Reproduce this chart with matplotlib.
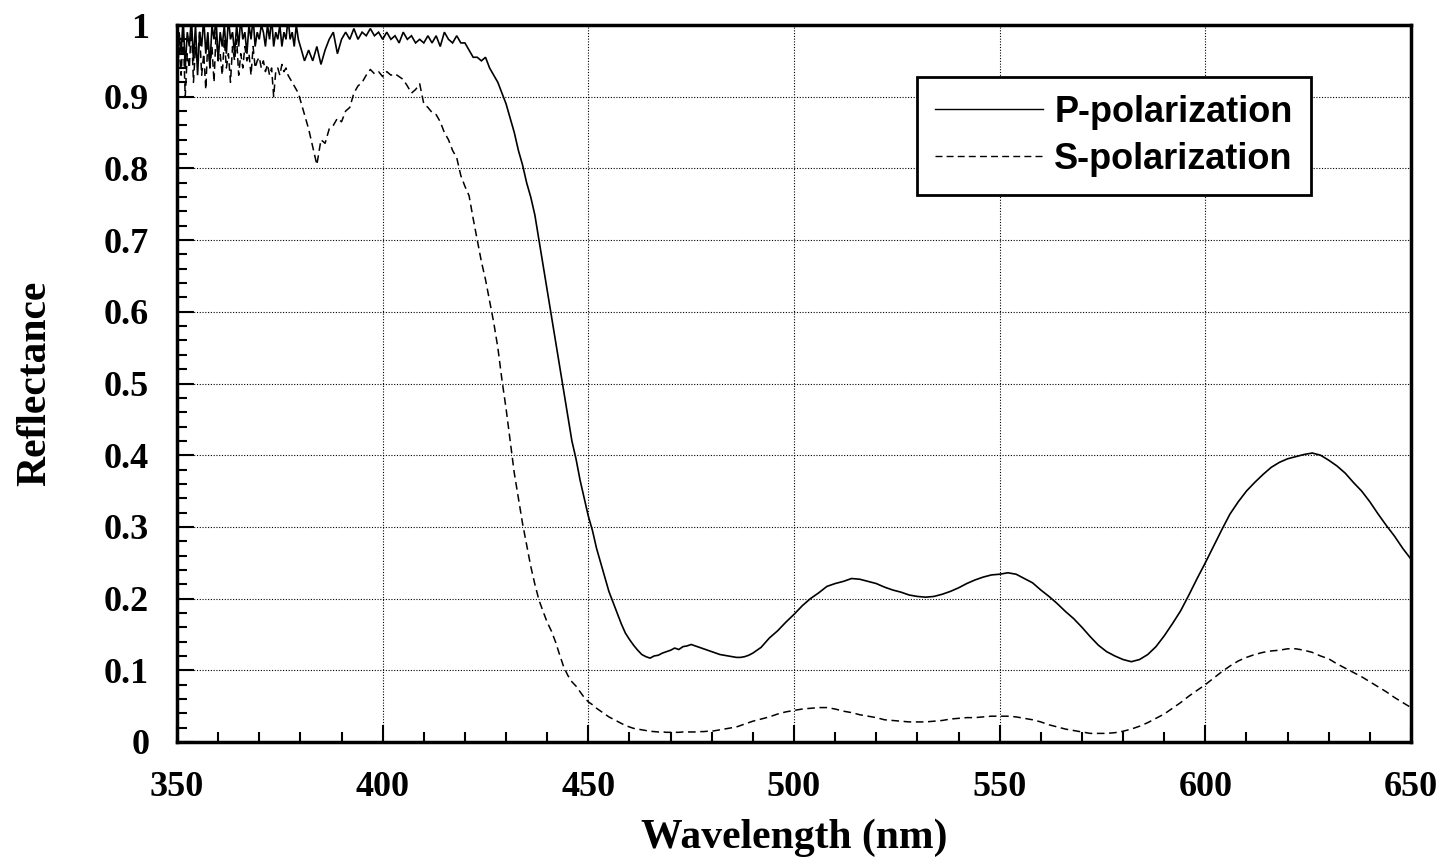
import numpy as np
import matplotlib
matplotlib.use("Agg")
import matplotlib.pyplot as plt
from matplotlib.ticker import MultipleLocator

# ---------------- data ----------------
# Segment A: 350-380 nm, 0.5 nm steps (noisy region)
wl_a = np.arange(350.0, 380.01, 0.5)
p_a = [0.93, 0.99, 0.96, 1.01, 0.94, 0.99, 0.97, 1.01, 0.95, 1.0, 0.93, 0.99, 0.97, 1.01, 0.96,
       0.99, 0.94, 1.0, 0.98, 1.01, 0.95, 0.99, 0.97, 1.0, 0.96, 1.01, 0.98, 0.99, 0.96, 1.0,
       0.97, 1.01, 0.98, 0.99, 0.96, 1.0, 0.98, 1.01, 0.97, 0.99, 0.98, 1.0, 0.99, 0.97, 1.0,
       0.98, 1.01, 0.97, 0.99, 0.98, 1.0, 0.97, 0.99, 0.98, 1.01, 0.98, 0.99, 0.97, 1.0, 0.98,
       0.97]
s_a = [0.92, 0.97, 0.93, 0.99, 0.90, 0.96, 0.94, 1.0, 0.92, 0.97, 0.95, 0.99, 0.93, 0.96, 0.91,
       0.98, 0.94, 0.97, 0.92, 0.99, 0.95, 0.96, 0.93, 0.98, 0.94, 0.96, 0.92, 0.97, 0.95, 0.98,
       0.93, 0.96, 0.94, 0.97, 0.95, 0.96, 0.93, 0.97, 0.94, 0.95, 0.955, 0.94, 0.95, 0.935, 0.945,
       0.93, 0.94, 0.90, 0.935, 0.94, 0.93, 0.945, 0.935, 0.94, 0.93, 0.925, 0.92, 0.915, 0.91, 0.905,
       0.895]

# Segment B: 381-490 nm, 1 nm steps
wl_b = np.arange(381.0, 490.01, 1.0)
p_b = [0.95, 0.965, 0.95, 0.97, 0.945, 0.965, 0.98, 0.99, 0.96, 0.98,
       0.99, 0.98, 0.995, 0.98, 0.99, 0.985, 0.995, 0.985, 0.99, 0.98,
       0.99, 0.98, 0.985, 0.975, 0.99, 0.98, 0.985, 0.975, 0.98, 0.975,
       0.985, 0.975, 0.985, 0.97, 0.99, 0.98, 0.975, 0.985, 0.975, 0.975,
       0.965, 0.955, 0.955, 0.95, 0.955, 0.94, 0.93, 0.92, 0.905, 0.89,
       0.87, 0.85, 0.825, 0.805, 0.78, 0.76, 0.735, 0.70, 0.665, 0.63,
       0.595, 0.56, 0.525, 0.49, 0.455, 0.42, 0.395, 0.365, 0.34, 0.315,
       0.295, 0.27, 0.25, 0.23, 0.21, 0.195, 0.18, 0.165, 0.152, 0.143,
       0.135, 0.128, 0.122, 0.119, 0.117, 0.12, 0.121, 0.124, 0.126, 0.128,
       0.131, 0.129, 0.133, 0.134, 0.136, 0.134, 0.132, 0.13, 0.128, 0.126,
       0.124, 0.122, 0.121, 0.12, 0.119, 0.118, 0.118, 0.119, 0.121, 0.124]
s_b = [0.875, 0.855, 0.83, 0.805, 0.84, 0.835, 0.855, 0.86, 0.87, 0.865,
       0.88, 0.885, 0.905, 0.915, 0.92, 0.93, 0.938, 0.932, 0.935, 0.928,
       0.935, 0.93, 0.932, 0.928, 0.924, 0.915, 0.905, 0.91, 0.918, 0.89,
       0.885, 0.878, 0.875, 0.865, 0.85, 0.84, 0.825, 0.815, 0.79, 0.775,
       0.762, 0.73, 0.70, 0.67, 0.645, 0.615, 0.585, 0.55, 0.505, 0.465,
       0.42, 0.375, 0.34, 0.305, 0.275, 0.245, 0.22, 0.198, 0.182, 0.167,
       0.155, 0.14, 0.122, 0.105, 0.093, 0.084, 0.078, 0.07, 0.062, 0.056,
       0.052, 0.047, 0.043, 0.039, 0.035, 0.032, 0.029, 0.026, 0.023, 0.021,
       0.019, 0.018, 0.017, 0.016, 0.015, 0.0145, 0.014, 0.014, 0.0135, 0.0135,
       0.0135, 0.0135, 0.014, 0.014, 0.014, 0.014, 0.0145, 0.0145, 0.015, 0.015,
       0.016, 0.017, 0.018, 0.019, 0.02, 0.021, 0.023, 0.025, 0.027, 0.029]

# Segment C: 492-650 nm, 2 nm steps
wl_c = np.arange(492.0, 650.01, 2.0)
p_c = [0.132, 0.145, 0.155, 0.167, 0.178, 0.19, 0.2, 0.208, 0.217, 0.221,
       0.224, 0.228, 0.227, 0.224, 0.221, 0.216, 0.212, 0.209, 0.205, 0.203,
       0.202, 0.203, 0.206, 0.21, 0.215, 0.221, 0.226, 0.23, 0.233, 0.234,
       0.236, 0.234, 0.228, 0.222, 0.212, 0.203, 0.193, 0.182, 0.172, 0.16,
       0.147, 0.135, 0.126, 0.12, 0.115, 0.112, 0.115, 0.122, 0.133, 0.148,
       0.165, 0.183, 0.205, 0.228, 0.25, 0.273, 0.296, 0.318, 0.335, 0.35,
       0.362, 0.373, 0.383, 0.39, 0.395, 0.398, 0.401, 0.403, 0.40, 0.393,
       0.385, 0.375, 0.362, 0.35, 0.335, 0.318, 0.302, 0.287, 0.27, 0.255]
s_c = [0.032, 0.035, 0.039, 0.042, 0.044, 0.046, 0.047, 0.048, 0.048, 0.046,
       0.043, 0.041, 0.038, 0.036, 0.034, 0.031, 0.03, 0.029, 0.028, 0.028,
       0.028, 0.029, 0.03, 0.032, 0.033, 0.034, 0.034, 0.035, 0.036, 0.036,
       0.036, 0.035, 0.033, 0.031, 0.028, 0.024, 0.021, 0.018, 0.016, 0.014,
       0.012, 0.012, 0.012, 0.013, 0.015, 0.018, 0.022, 0.027, 0.033, 0.039,
       0.047, 0.055, 0.064, 0.072, 0.08, 0.089, 0.098, 0.106, 0.113, 0.118,
       0.122, 0.125, 0.127, 0.128, 0.13, 0.13, 0.128, 0.125, 0.12, 0.116,
       0.109, 0.103, 0.097, 0.091, 0.084, 0.077, 0.07, 0.062, 0.055, 0.048]

wavelength = np.concatenate([wl_a, wl_b, wl_c])
p_pol = np.concatenate([p_a, p_b, p_c])
s_pol = np.concatenate([s_a, s_b, s_c])

x_ticks = [350, 400, 450, 500, 550, 600, 650]
y_ticks = [0, 0.1, 0.2, 0.3, 0.4, 0.5, 0.6, 0.7, 0.8, 0.9, 1]
y_tick_labels = ["0", "0.1", "0.2", "0.3", "0.4", "0.5", "0.6", "0.7", "0.8", "0.9", "1"]
series_labels = ["P-polarization", "S-polarization"]

# ---------------- figure ----------------
W, H = 1442, 866
fig = plt.figure(figsize=(W / 100, H / 100), dpi=100)
fig.patch.set_facecolor("white")
ax = fig.add_axes([177 / W, 1 - 742 / H, (1411 - 177) / W, (742 - 25) / H])

serif = ["Liberation Serif", "DejaVu Serif"]
sans = ["Liberation Sans", "DejaVu Sans"]

ax.plot(wavelength, p_pol, color="black", lw=1.2, solid_joinstyle="miter", label=series_labels[0])
ax.plot(wavelength, s_pol, color="black", lw=1.1, linestyle=(0, (5, 3)), label=series_labels[1])

ax.set_xlim(350, 650)
ax.set_ylim(0, 1)
ax.set_xticks(x_ticks)
ax.set_yticks(y_ticks)
ax.set_yticklabels(y_tick_labels)
ax.xaxis.set_minor_locator(MultipleLocator(10))
ax.yaxis.set_minor_locator(MultipleLocator(0.02))

ax.grid(True, which="major", color="black", linestyle=(0, (1, 1.5)), lw=0.8)
ax.tick_params(which="both", direction="in", top=False, right=False, width=1.5, color="black")
ax.tick_params(which="major", length=12)
ax.tick_params(which="minor", length=7)
ax.tick_params(axis="x", which="major", pad=21)
ax.tick_params(axis="y", which="major", pad=20)

for lab in ax.get_xticklabels() + ax.get_yticklabels():
    lab.set_fontfamily(serif)
    lab.set_fontweight("bold")
    lab.set_fontsize(26)

for sp in ax.spines.values():
    sp.set_linewidth(2.5)
    sp.set_color("black")

ax.set_xlabel("Wavelength (nm)", fontfamily=serif, fontweight="bold", fontsize=30, labelpad=10)
ax.set_ylabel("Reflectance", fontfamily=serif, fontweight="bold", fontsize=30, labelpad=36)

leg = ax.legend(loc="upper left", bbox_to_anchor=(917 / W, 1 - 77 / H),
                bbox_transform=fig.transFigure, borderaxespad=0,
                prop={"family": sans, "weight": "bold", "size": 26},
                frameon=True, fancybox=False, handlelength=3.0, handletextpad=0.3,
                labelspacing=0.32, borderpad=0.5)
leg.get_frame().set_edgecolor("black")
leg.get_frame().set_linewidth(2.0)
leg.get_frame().set_facecolor("white")
leg.get_frame().set_alpha(1)
for line in leg.get_lines():
    line.set_linewidth(1.0)

fig.savefig("out.png", dpi=100, facecolor="white")
